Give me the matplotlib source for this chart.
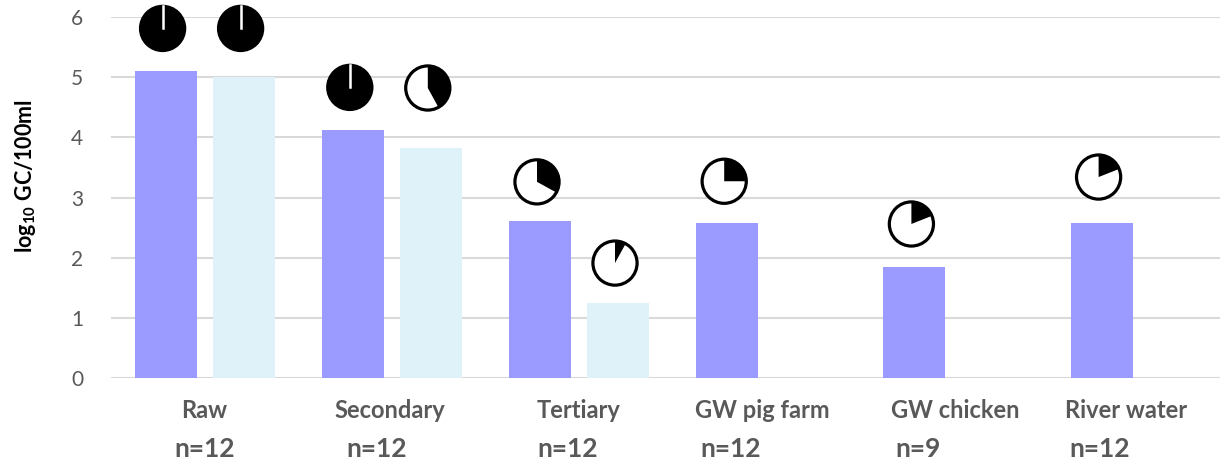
import matplotlib
matplotlib.use("Agg")
import matplotlib.pyplot as plt
from matplotlib.patches import Wedge, Circle
from matplotlib.transforms import blended_transform_factory

# ---- data ----
categories = ["Raw", "Secondary", "Tertiary", "GW pig farm", "GW chicken", "River water"]
n_labels = ["n=12", "n=12", "n=12", "n=12", "n=9", "n=12"]
series_a = [5.10, 4.12, 2.61, 2.57, 1.84, 2.57]          # dark bars
series_b = [5.00, 3.82, 1.25, None, None, None]          # light bars
pie_a = [1.00, 1.00, 0.33, 0.25, 0.19, 0.19]             # black share of pies above dark bars
pie_b = [1.00, 0.42, 0.08, None, None, None]             # black share above light bars
pie_a_level = [5.81, 4.83, 3.26, 3.27, 2.56, 3.34]       # pie centre heights (data units)
pie_b_level = [5.81, 4.82, 1.91, None, None, None]
yticks = [0, 1, 2, 3, 4, 5, 6]

plt.rcParams['font.family'] = ['Lato', 'DejaVu Sans']
plt.rcParams['mathtext.fontset'] = 'custom'
plt.rcParams['mathtext.bf'] = 'Lato:bold'
plt.rcParams['mathtext.rm'] = 'Lato:bold'

W, H = 1220, 462
fig = plt.figure(figsize=(W / 100, H / 100), dpi=100)
ax_l, ax_b, ax_t = 111, 378, 17
ax = fig.add_axes([ax_l / W, (H - ax_b) / H, (W - ax_l) / W, (ax_b - ax_t) / H])

spacing_px = 187.2
xmax = -0.5 + (W - ax_l) / spacing_px
ax.set_xlim(-0.5, xmax)
ax.set_ylim(0, 6)

off = 39 / spacing_px
bw = 62 / spacing_px
dark = "#9B9BFF"
light = "#DFF2FA"
xs = list(range(len(categories)))
ax.bar([x - off for x in xs], series_a, width=bw, color=dark, zorder=3)
xb = [x + off for x, v in zip(xs, series_b) if v is not None]
vb = [v for v in series_b if v is not None]
ax.bar(xb, vb, width=bw, color=light, zorder=3)

# grid
ax.set_yticks(yticks)
ax.yaxis.grid(True, color="#d9d9d9", linewidth=1.5, zorder=0)
ax.set_axisbelow(True)
for s in ["top", "right", "left", "bottom"]:
    ax.spines[s].set_visible(False)
ax.tick_params(axis="y", length=0, pad=20, labelsize=15, labelcolor="#595959")
ax.tick_params(axis="x", length=0, pad=15, labelsize=17, labelcolor="#595959")
cat_label_x = [0.0, 0.99, 1.996, 2.98, 4.01, 4.92]
ax.set_xticks(cat_label_x)
ax.set_xticklabels(categories, fontweight="bold")

ax.set_ylabel(r"log$_{\mathbf{10}}$ GC/100ml", fontsize=15.5, fontweight="bold")
ax.yaxis.set_label_coords(-0.066, 0.56)

# n labels
n_x = [0.0, 0.92, 1.94, 2.81, 3.81, 4.78]
tr = blended_transform_factory(ax.transData, ax.transAxes)
for x, t in zip(n_x, n_labels):
    ax.text(x, -0.196, t, transform=tr, ha="center", va="center",
            fontsize=19, fontweight="bold", color="#595959")

# pies
ypx = (ax_b - ax_t) / 6
size_px = 53
wd = size_px / spacing_px
hd = size_px / ypx


def draw_pie(xc, yc, frac):
    ia = ax.inset_axes([xc - wd / 2, yc - hd / 2, wd, hd], transform=ax.transData, zorder=5)
    ia.set_xlim(-1.2, 1.2)
    ia.set_ylim(-1.2, 1.2)
    ia.axis("off")
    ia.add_patch(Circle((0, 0), 1, facecolor="white", edgecolor="none"))
    if frac > 0:
        ia.add_patch(Wedge((0, 0), 1, 90 - frac * 360, 90, facecolor="black", edgecolor="none"))
    ia.add_patch(Circle((0, 0), 1, facecolor="none", edgecolor="black", linewidth=2.3))
    if frac >= 1:
        ia.plot([0, 0], [0, 1.0], color="white", linewidth=1.8)


pie_shift = -3 / spacing_px
for x, f, lv in zip(xs, pie_a, pie_a_level):
    draw_pie(x - off + pie_shift, lv, f)
for x, f, lv in zip(xs, pie_b, pie_b_level):
    if f is not None:
        draw_pie(x + off + pie_shift, lv, f)

fig.savefig("out.png", dpi=100)
